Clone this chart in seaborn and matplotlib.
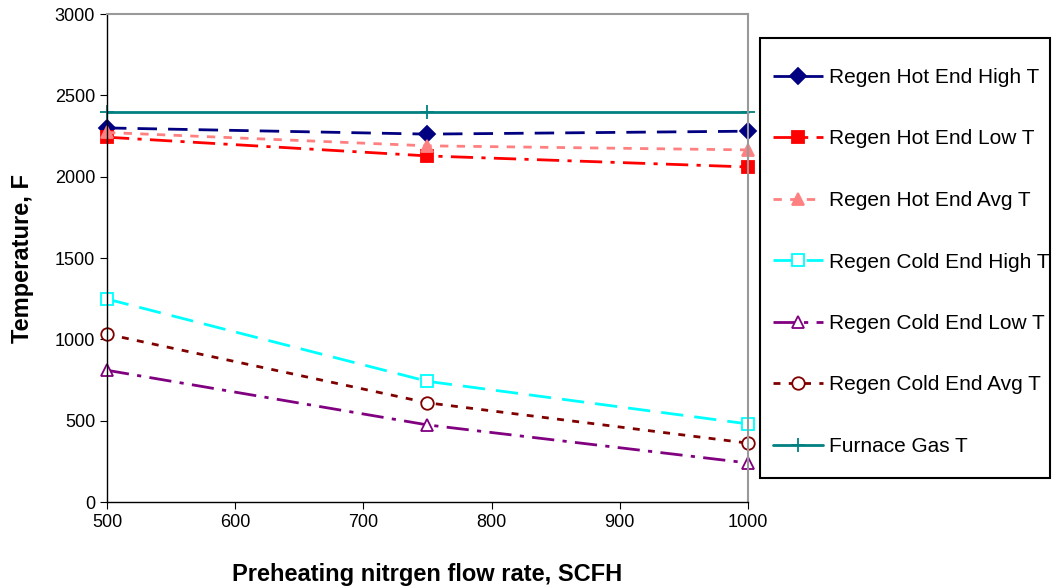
import matplotlib
matplotlib.use("Agg")
import matplotlib.pyplot as plt
from matplotlib.patches import Rectangle
import seaborn as sns
import pandas as pd

flow = [500, 750, 1000]
hot_high = [2300, 2262, 2280]
hot_low = [2243, 2128, 2060]
hot_avg = [2272, 2190, 2165]
cold_high = [1248, 742, 480]
cold_low = [810, 474, 240]
cold_avg = [1032, 610, 362]
furnace = [2400, 2400, 2400]

series = [
    ("Regen Hot End High T", hot_high, "#000080", (0, (7, 4)), "D", "#000080", 8),
    ("Regen Hot End Low T", hot_low, "#FF0000", (0, (8, 3, 1.5, 3)), "s", "#FF0000", 9),
    ("Regen Hot End Avg T", hot_avg, "#FF8080", (0, (3, 3)), "^", "#FF8080", 9),
    ("Regen Cold End High T", cold_high, "#00FFFF", (0, (8, 4)), "s", "white", 9),
    ("Regen Cold End Low T", cold_low, "#800080", (0, (8, 3, 1.5, 3)), "^", "white", 9),
    ("Regen Cold End Avg T", cold_avg, "#800000", (0, (2.5, 3)), "o", "white", 9),
    ("Furnace Gas T", furnace, "#008080", "-", "+", "#008080", 10),
]

sns.set_style("white")
plt.rcParams["font.family"] = ["Liberation Sans", "DejaVu Sans"]
plt.rcParams["text.color"] = "black"
plt.rcParams["axes.labelcolor"] = "black"
plt.rcParams["xtick.color"] = "black"
plt.rcParams["ytick.color"] = "black"

fig = plt.figure(figsize=(10.53, 5.87), dpi=100)
ax = fig.add_axes([0.1016, 0.1448, 0.6087, 0.8312])

for name, vals, col, ls, mk, mfc, ms in series:
    df = pd.DataFrame({"x": flow, "y": vals})
    sns.lineplot(data=df, x="x", y="y", ax=ax, color=col, linestyle=ls,
                 marker=mk, markersize=ms, markerfacecolor=mfc,
                 markeredgecolor=col, markeredgewidth=1.3, linewidth=2,
                 clip_on=False, label=name)

ax.set_xlim(500, 1000)
ax.set_ylim(0, 3000)
ax.set_xticks([500, 600, 700, 800, 900, 1000])
ax.set_yticks([0, 500, 1000, 1500, 2000, 2500, 3000])
ax.tick_params(axis="both", which="both", direction="out", length=5,
               labelsize=13, left=True, bottom=True, colors="black")
ax.set_xlabel("Preheating nitrgen flow rate, SCFH", fontsize=17, fontweight="bold", labelpad=23)
ax.set_ylabel("Temperature, F", fontsize=17, fontweight="bold", labelpad=15)

for s in ["left", "bottom"]:
    ax.spines[s].set_color("black")
    ax.spines[s].set_linewidth(1.0)
for s in ["top", "right"]:
    ax.spines[s].set_color("#999999")
    ax.spines[s].set_linewidth(1.5)

h, l = ax.get_legend_handles_labels()
ax.get_legend().remove()

W, H = 1053, 587
fig.patches.append(Rectangle((760 / W, 1 - 478 / H), 290 / W, 440 / H,
                             transform=fig.transFigure, fill=False,
                             edgecolor="black", linewidth=1.5))
leg = fig.legend(h, l, loc="upper left", bbox_to_anchor=(773 / W, 1 - 68 / H),
                 fontsize=15, frameon=False,
                 labelspacing=2.04, handlelength=2.4, handletextpad=0.3,
                 borderpad=0, borderaxespad=0)

fig.savefig("out.png", dpi=100)
